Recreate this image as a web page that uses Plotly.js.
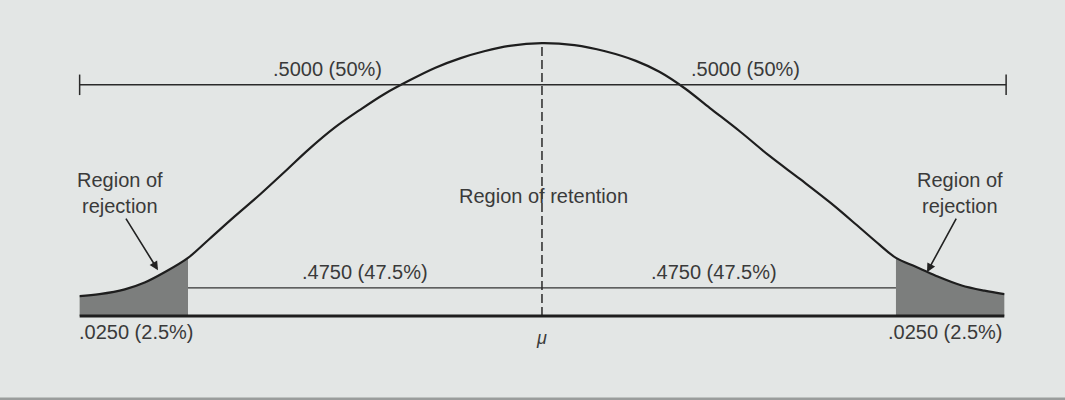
<!DOCTYPE html>
<html>
<head>
<meta charset="utf-8">
<script src="https://cdn.plot.ly/plotly-3.0.1.min.js"></script>
<style>
  html, body { margin: 0; padding: 0; background: #e3e6e5; }
  #chart { width: 1065px; height: 400px; }
</style>
</head>
<body>
<div id="chart"></div>
<script>
// Normal curve: z (standard units) on x, density on y
const curveZ = [-2.56, -2.45, -2.31, -2.20, -2.09, -1.96, -1.84, -1.70, -1.56, -1.42, -1.29, -1.15, -1.01, -0.87,
                -0.73, -0.59, -0.45, -0.32, -0.18, 0.00,
                0.18, 0.35, 0.52, 0.65, 0.79, 0.93, 1.10, 1.26, 1.43, 1.60, 1.76, 1.87, 1.96,
                2.07, 2.18, 2.32, 2.45, 2.56];
const curveDensity = [0.029, 0.032, 0.039, 0.049, 0.064, 0.085, 0.113, 0.146, 0.178, 0.212, 0.244, 0.275, 0.301, 0.325,
                      0.345, 0.363, 0.377, 0.387, 0.395, 0.399,
                      0.396, 0.387, 0.373, 0.357, 0.333, 0.304, 0.269, 0.234, 0.200, 0.165, 0.129, 0.104, 0.085,
                      0.072, 0.059, 0.045, 0.037, 0.032];

// Two-tailed critical value at alpha = .05
const zCritical = 1.96;

// Area labels
const halfLabels = ['.5000 (50%)', '.5000 (50%)'];
const retentionLabels = ['.4750 (47.5%)', '.4750 (47.5%)'];
const tailLabels = ['.0250 (2.5%)', '.0250 (2.5%)'];
const regionLabels = ['Region of<br>rejection', 'Region of retention', 'Region of<br>rejection'];
const meanLabel = 'μ';

const FONT = 'Liberation Sans, Arial, Helvetica, sans-serif';
const TEXT = '#3a3a3a';
const INK = '#1e1e1e';
const SHADE = '#7c7e7d';

const zMin = curveZ[0];
const zMax = curveZ[curveZ.length - 1];
const peak = Math.max(...curveDensity);

function tail(pred) {
  const xs = [], ys = [];
  curveZ.forEach((z, i) => { if (pred(z)) { xs.push(z); ys.push(curveDensity[i]); } });
  return { xs, ys };
}
const leftTail = tail(z => z <= -zCritical);
const rightTail = tail(z => z >= zCritical);

const traces = [
  { x: leftTail.xs, y: leftTail.ys, type: 'scatter', mode: 'lines', fill: 'tozeroy',
    fillcolor: SHADE, line: { width: 0, shape: 'spline' }, hoverinfo: 'skip' },
  { x: rightTail.xs, y: rightTail.ys, type: 'scatter', mode: 'lines', fill: 'tozeroy',
    fillcolor: SHADE, line: { width: 0, shape: 'spline' }, hoverinfo: 'skip' },
  { x: curveZ, y: curveDensity, type: 'scatter', mode: 'lines',
    line: { color: INK, width: 2.2, shape: 'spline', smoothing: 1 }, hoverinfo: 'skip' }
];

// Bracket heights (layout positions)
const upperBracketY = 0.338;
const lowerBracketY = 0.041;
const tickHalf = 0.015;

const shapes = [
  // upper span with end ticks
  { type: 'line', xref: 'x', yref: 'y', x0: zMin, x1: zMax + 0.01, y0: upperBracketY, y1: upperBracketY,
    line: { color: '#2a2a2a', width: 1.5 } },
  { type: 'line', xref: 'x', yref: 'y', x0: zMin, x1: zMin, y0: upperBracketY - tickHalf, y1: upperBracketY + tickHalf,
    line: { color: '#2a2a2a', width: 1.5 } },
  { type: 'line', xref: 'x', yref: 'y', x0: zMax + 0.01, x1: zMax + 0.01, y0: upperBracketY - tickHalf, y1: upperBracketY + tickHalf,
    line: { color: '#2a2a2a', width: 1.5 } },
  // retention span between critical values
  { type: 'line', xref: 'x', yref: 'y', x0: -zCritical, x1: zCritical, y0: lowerBracketY, y1: lowerBracketY,
    line: { color: '#333', width: 1.2 } },
  // mean line
  { type: 'line', xref: 'x', yref: 'y', x0: 0, x1: 0, y0: 0, y1: peak,
    line: { color: '#2a2a2a', width: 1.5, dash: '9px,4px' } },
  // baseline
  { type: 'line', xref: 'x', yref: 'y', x0: zMin, x1: zMax, y0: 0, y1: 0,
    line: { color: INK, width: 3 } },
  // lower edge
  { type: 'rect', xref: 'paper', yref: 'paper', x0: 0, x1: 1, y0: 0, y1: 0.006,
    line: { width: 0 }, fillcolor: '#9a9d9c' }
];

const labelFont = { family: FONT, size: 20, color: TEXT };

const annotations = [
  { x: -1.19, y: 0.361, text: halfLabels[0] },
  { x: 1.125, y: 0.361, text: halfLabels[1] },
  { x: -0.98, y: 0.064, text: retentionLabels[0] },
  { x: 0.952, y: 0.064, text: retentionLabels[1] },
  { x: -2.243, y: -0.024, text: tailLabels[0] },
  { x: 2.237, y: -0.024, text: tailLabels[1] },
  { x: 0.01, y: 0.175, text: regionLabels[1] },
  { x: -2.337, y: 0.180, text: regionLabels[0] },
  { x: 2.315, y: 0.180, text: regionLabels[2] },
  { x: 0, y: -0.032, text: '<i>' + meanLabel + '</i>', font: { family: FONT, size: 18, color: TEXT } }
].map(a => Object.assign({ xref: 'x', yref: 'y', showarrow: false, font: labelFont, align: 'center' }, a));

// arrows pointing into the shaded tails
annotations.push(
  { xref: 'x', yref: 'y', x: -2.126, y: 0.067, ax: -33, ay: -53, text: '',
    showarrow: true, arrowhead: 2, arrowsize: 1.1, arrowwidth: 1.6, arrowcolor: '#222', standoff: 0 },
  { xref: 'x', yref: 'y', x: 2.132, y: 0.064, ax: 30, ay: -55, text: '',
    showarrow: true, arrowhead: 2, arrowsize: 1.1, arrowwidth: 1.6, arrowcolor: '#222', standoff: 0 }
);

const layout = {
  width: 1065, height: 400,
  margin: { l: 0, r: 0, t: 0, b: 0 },
  paper_bgcolor: '#e3e6e5', plot_bgcolor: '#e3e6e5',
  showlegend: false,
  xaxis: { range: [-3.001, 2.896], visible: false, fixedrange: true },
  yaxis: { range: [-0.1228, 0.462], visible: false, fixedrange: true },
  shapes, annotations
};

Plotly.newPlot('chart', traces, layout, { staticPlot: true, displayModeBar: false });
</script>
</body>
</html>
